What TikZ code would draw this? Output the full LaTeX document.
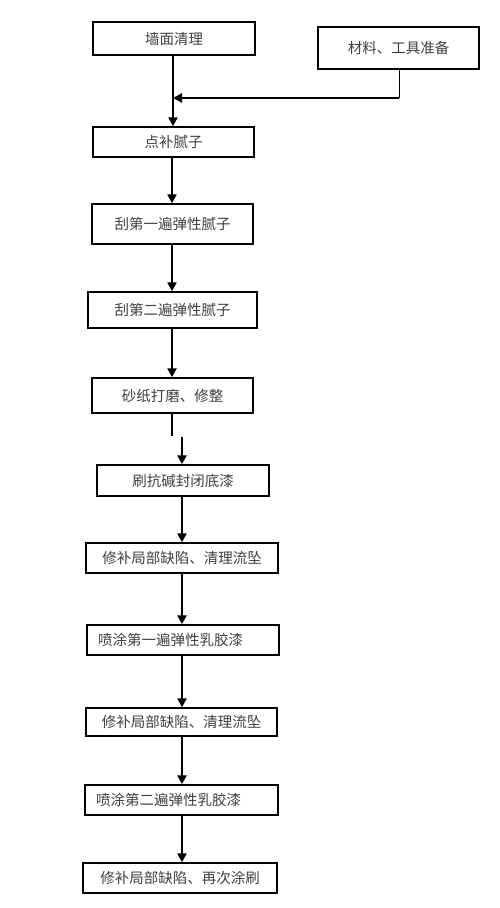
\documentclass[tikz,border=0pt]{standalone}
\usepackage{fontspec}
\newfontfamily\cjk{Noto Sans CJK SC}
\usetikzlibrary{arrows.meta}
\tikzset{
  box/.style={draw=black, line width=1.4pt, rectangle, inner sep=0pt, text=black!75,
    font=\cjk\fontsize{14.5}{17}\selectfont},
  leftbox/.style={box, align=left, inner xsep=11pt},
  arr/.style={line width=2.6pt, -{Triangle[length=9pt,width=9pt]}},
  plain/.style={line width=2.6pt},
  thin/.style={line width=1pt},
}
\begin{document}
\begin{tikzpicture}[x=1pt,y=-1pt]
\useasboundingbox[fill=white] (0,0) rectangle (500,908);
\coordinate (xa) at (173,0);
\coordinate (xb) at (182,0);
\node[box, minimum width=162pt, minimum height=33pt] (b1) at (174,38.5) {墙面清理};
\node[box, minimum width=161pt, minimum height=42pt] (m) at (398.5,48) {材料、工具准备};
\node[box, minimum width=161pt, minimum height=30pt] (b2) at (173.5,142) {点补腻子};
\node[box, minimum width=161pt, minimum height=40pt] (b3) at (172.5,224) {刮第一遍弹性腻子};
\node[box, minimum width=169pt, minimum height=36pt] (b4) at (172.5,310) {刮第二遍弹性腻子};
\node[box, minimum width=161pt, minimum height=35pt] (b5) at (172.5,395.5) {砂纸打磨、修整};
\node[box, minimum width=172pt, minimum height=31pt] (b6) at (183,480.5) {刷抗碱封闭底漆};
\node[box, minimum width=192pt, minimum height=30pt] (b7) at (182,558) {修补局部缺陷、清理流坠};
\node[leftbox, text width=170pt, minimum height=30pt] (b8) at (183,640) {喷涂第一遍弹性乳胶漆};
\node[box, minimum width=191pt, minimum height=28pt] (b9) at (181.5,722) {修补局部缺陷、清理流坠};
\node[leftbox, text width=171pt, minimum height=30pt] (b10) at (181.5,800) {喷涂第二遍弹性乳胶漆};
\node[box, minimum width=194pt, minimum height=30pt] (b11) at (180,878) {修补局部缺陷、再次涂刷};
\coordinate (j) at (399,98);
\coordinate (g1) at (172,436);
\coordinate (g2) at (182,437);
\draw[arr] (b1.south -| xa) -- (b2.north -| xa);
\draw[thin] (m.south -| j) -- (j);
\draw[arr] (j) -- (j -| xa);
\draw[arr] (b2.south -| g1) -- (b3.north -| g1);
\draw[arr] (b3.south -| g1) -- (b4.north -| g1);
\draw[arr] (b4.south -| g1) -- (b5.north -| g1);
\draw[plain] (b5.south -| g1) -- (g1);
\draw[arr] (g2) -- (b6.north -| g2);
\draw[arr] (b6.south -| xb) -- (b7.north -| xb);
\draw[arr] (b7.south -| xb) -- (b8.north -| xb);
\draw[arr] (b8.south -| xb) -- (b9.north -| xb);
\draw[arr] (b9.south -| xb) -- (b10.north -| xb);
\draw[arr] (b10.south -| xb) -- (b11.north -| xb);
\end{tikzpicture}
\end{document}
